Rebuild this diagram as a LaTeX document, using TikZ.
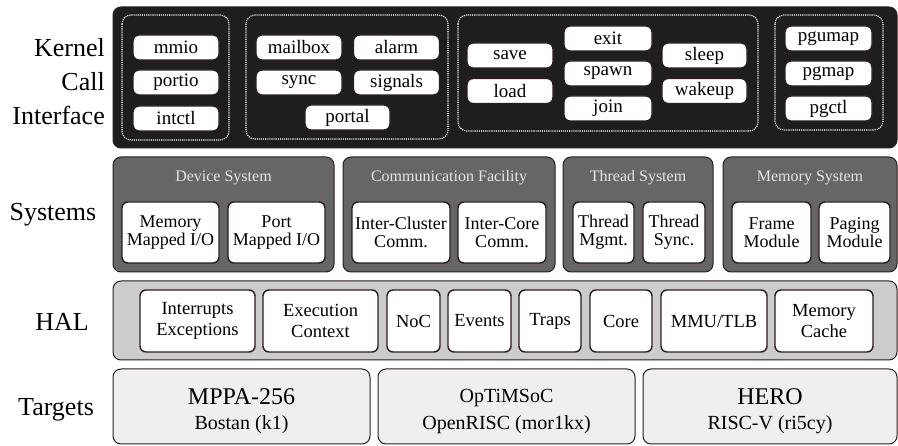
\documentclass[tikz,border=0pt]{standalone}
\usepackage{fontspec}
\setmainfont{Liberation Serif}
\definecolor{kfill}{HTML}{1E1E1E}
\definecolor{edge}{HTML}{2B1D1D}
\definecolor{sfill}{HTML}{666666}
\definecolor{hfill}{HTML}{CCCCCC}
\definecolor{tfill}{HTML}{EFEFEF}
\definecolor{ttext}{HTML}{E6E6E6}
\tikzset{
  wbox/.style={draw=edge, line width=1.4pt, fill=white, rounded corners=6pt, inner sep=0pt, align=center},
  kcall/.style={wbox, minimum height=25pt, font=\fontsize{19}{20}\selectfont},
  sysin/.style={wbox, minimum height=61pt, font=\fontsize{18}{18}\selectfont},
  halin/.style={wbox, minimum height=62pt, font=\fontsize{18.5}{21}\selectfont},
  dotbox/.style={draw=white, line width=1.1pt, densely dotted, rounded corners=9pt},
  layer/.style={draw=edge, line width=1pt, rounded corners=8pt},
  systitle/.style={text=ttext, font=\fontsize{16}{18}\selectfont},
  side/.style={font=\fontsize{26}{30}\selectfont, inner sep=0pt},
  tname/.style={font=\fontsize{24}{26}\selectfont},
  tsub/.style={font=\fontsize{20}{22}\selectfont},
}
\begin{document}
\begin{tikzpicture}[x=1pt,y=-1pt]
\useasboundingbox (0,0) rectangle (898,446);
% ---------- Kernel Call Interface ----------
\path[layer, fill=kfill] (113,7) rectangle (897,148);
\draw[dotbox] (122,15) rectangle (229,140);
\draw[dotbox] (246,15) rectangle (448,139);
\draw[dotbox] (458,15) rectangle (758,131);
\draw[dotbox] (775,15) rectangle (883,130);
\node[kcall, minimum width=86pt] (mmio) at (176,47.5) {mmio};
\node[kcall, minimum width=86pt] (portio) at (176,82.5) {portio};
\node[kcall, minimum width=86pt] (intctl) at (176,118.5) {intctl};
\node[kcall, minimum width=86pt] (mailbox) at (299,47.5) {mailbox};
\node[kcall, minimum width=86pt] (alarm) at (396.5,47.5) {alarm};
\node[kcall, minimum width=86pt] (sync) at (299,82.5) {sync};
\node[kcall, minimum width=86pt] (signals) at (396.5,82.5) {signals};
\node[kcall, minimum width=85pt] (portal) at (347.5,117.5) {portal};
\node[kcall, minimum width=86pt] (save) at (510,55.5) {save};
\node[kcall, minimum width=86pt] (load) at (510,91) {load};
\node[kcall, minimum width=88pt] (exit) at (608,38.5) {exit};
\node[kcall, minimum width=88pt] (spawn) at (608,73.5) {spawn};
\node[kcall, minimum width=88pt] (join) at (608,108.5) {join};
\node[kcall, minimum width=85pt] (sleep) at (704.5,55.5) {sleep};
\node[kcall, minimum width=85pt] (wakeup) at (704.5,91) {wakeup};
\node[kcall, minimum width=87pt] (pgumap) at (828.5,38.5) {pgumap};
\node[kcall, minimum width=87pt] (pgmap) at (828.5,73.5) {pgmap};
\node[kcall, minimum width=87pt] (pgctl) at (828.5,108.5) {pgctl};
% ---------- Systems ----------
\path[layer, fill=sfill] (113,157) rectangle (334,272);
\path[layer, fill=sfill] (343,157) rectangle (555,272);
\path[layer, fill=sfill] (563,157) rectangle (713,272);
\path[layer, fill=sfill] (723,157) rectangle (897,272);
\node[systitle] (devt) at (223.5,178) {Device System};
\node[systitle] (comt) at (449,178) {Communication Facility};
\node[systitle] (thrt) at (638,178) {Thread System};
\node[systitle] (memt) at (810,178) {Memory System};
\node[sysin, minimum width=97pt] (mmapio) at (170.5,232.5) {Memory\\Mapped I/O};
\node[sysin, minimum width=97pt] (pmapio) at (276.5,232.5) {Port\\Mapped I/O};
\node[sysin, minimum width=98pt] (icluster) at (401,232.5) {Inter-Cluster\\Comm.};
\node[sysin, minimum width=88pt] (icore) at (502,232.5) {Inter-Core\\Comm.};
\node[sysin, minimum width=61pt] (tmgmt) at (603.5,232.5) {Thread\\Mgmt.};
\node[sysin, minimum width=62pt] (tsync) at (674,232.5) {Thread\\Sync.};
\node[sysin, minimum width=79pt] (frame) at (771.5,232.5) {Frame\\Module};
\node[sysin, minimum width=71pt] (paging) at (854.5,232.5) {Paging\\Module};
% ---------- HAL ----------
\path[layer, fill=hfill] (113,281) rectangle (897,360);
\node[halin, minimum width=115pt] (intr) at (197.5,321) {Interrupts\\Exceptions};
\node[halin, minimum width=115pt] (exec) at (320.5,321) {Execution\\Context};
\node[halin, minimum width=53pt] (noc) at (413.5,321) {NoC};
\node[halin, minimum width=63pt] (events) at (479.5,321) {Events};
\node[halin, minimum width=62pt] (traps) at (550,321) {Traps};
\node[halin, minimum width=62pt] (core) at (621,321) {Core};
\node[halin, minimum width=106pt] (mmu) at (714,321) {MMU/TLB};
\node[halin, minimum width=98pt] (mcache) at (824,321) {Memory\\Cache};
% ---------- Targets ----------
\path[layer, fill=tfill] (113,369) rectangle (370,444);
\path[layer, fill=tfill] (378,369) rectangle (635,444);
\path[layer, fill=tfill] (643,369) rectangle (897,444);
\node[tname] (mppa) at (241.5,397) {MPPA-256};
\node[tsub] (bostan) at (241.5,425) {Bostan\hspace{5pt}(k1)};
\node[tsub] (optimsoc) at (506.5,398) {OpTiMSoC};
\node[tsub] (openrisc) at (506.5,425) {OpenRISC\hspace{5pt}(mor1kx)};
\node[tname] (hero) at (770,397) {HERO};
\node[tsub] (riscv) at (770,425) {RISC-V\hspace{5pt}(ri5cy)};
% ---------- Side labels ----------
\node[side, anchor=east] (kernel) at (105,48) {Kernel};
\node[side, anchor=east] (call) at (105,82) {Call};
\node[side, anchor=east] (iface) at (105,115) {Interface};
\node[side] (systems) at (53,215) {Systems};
\node[side] (hal) at (62,322) {HAL};
\node[side] (targets) at (56,410) {Targets};
\end{tikzpicture}
\end{document}
